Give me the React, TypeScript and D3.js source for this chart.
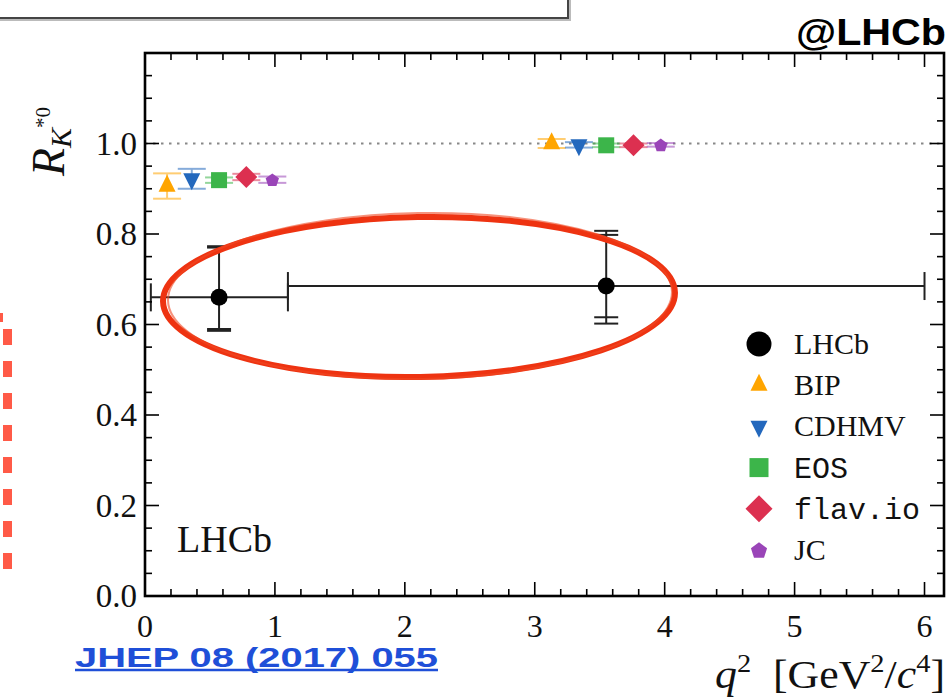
import React from "react";
import * as d3 from "d3";

const xMajorTicks = [0, 1, 2, 3, 4, 5, 6];
const xTickLabels = ["0", "1", "2", "3", "4", "5", "6"];
const yMajorTicks = [0, 0.2, 0.4, 0.6, 0.8, 1.0, 1.2];
const yTickLabels = ["0.0", "0.2", "0.4", "0.6", "0.8", "1.0"];

// LHCb measurement
const lhcbQ2 = [0.57, 3.55];
const lhcbQ2Low = [0.045, 1.1];
const lhcbQ2High = [1.1, 6.0];
const lhcbR = [0.66, 0.685];
const lhcbStatUp = [0.11, 0.113];
const lhcbStatDn = [0.07, 0.069];
const lhcbTotUp = [0.113, 0.122];
const lhcbTotDn = [0.074, 0.083];

// Theory predictions
const theoryNames = ["BIP", "CDHMV", "EOS", "flav.io", "JC"];
const theoryShapes = ["tri", "itri", "square", "diamond", "pent"];
const theoryColors = ["#ffa500", "#2368bd", "#3cb54a", "#dc3050", "#9a45b8"];
const theoryLowQ2 = [0.17, 0.36, 0.57, 0.78, 0.98];
const theoryLowR = [0.906, 0.922, 0.919, 0.926, 0.92];
const theoryLowErr = [0.028, 0.022, 0.006, 0.007, 0.007];
const theoryHighQ2 = [3.13, 3.34, 3.55, 3.76, 3.97];
const theoryHighR = [1.0, 0.997, 0.996, 0.996, 0.997];
const theoryHighErr = [0.01, 0.006, 0.004, 0.004, 0.004];

const legendNames = ["LHCb", ...theoryNames];

const W = 952;
const H = 699;
const L = 145, R = 944, T = 53, B = 596;

const x = d3.scaleLinear().domain([0, 6.15]).range([L, R]);
const y = d3.scaleLinear().domain([0, 1.2]).range([B, T]);

const serif = "'Liberation Serif', 'DejaVu Serif', serif";
const mono = "'Liberation Mono', 'DejaVu Sans Mono', monospace";
const sans = "'Liberation Sans', Arial, sans-serif";

function marker(shape: string, cx: number, cy: number, s: number, color: string, key?: string) {
  if (shape === "circle") return <circle key={key} cx={cx} cy={cy} r={s / 2} fill={color} />;
  if (shape === "tri") {
    const h = s, w = s / 2;
    const p = `M${cx},${cy - (2 * h) / 3}L${cx + w},${cy + h / 3}L${cx - w},${cy + h / 3}Z`;
    return <path key={key} d={p} fill={color} />;
  }
  if (shape === "itri") {
    const h = s, w = s / 2;
    const p = `M${cx},${cy + (2 * h) / 3}L${cx + w},${cy - h / 3}L${cx - w},${cy - h / 3}Z`;
    return <path key={key} d={p} fill={color} />;
  }
  if (shape === "square") {
    return <rect key={key} x={cx - s / 2} y={cy - s / 2} width={s} height={s} fill={color} />;
  }
  if (shape === "diamond") {
    const r = s / 2;
    return <path key={key} d={`M${cx},${cy - r}L${cx + r},${cy}L${cx},${cy + r}L${cx - r},${cy}Z`} fill={color} />;
  }
  // pentagon
  const r = s / 2;
  const pts = d3.range(5).map((i) => {
    const a = -Math.PI / 2 + (i * 2 * Math.PI) / 5;
    return [cx + r * Math.cos(a), cy + r * Math.sin(a) + r * 0.1];
  });
  return <path key={key} d={"M" + pts.map((p) => p.join(",")).join("L") + "Z"} fill={color} />;
}

const plotSizes: Record<string, number> = { tri: 17, itri: 17, square: 16, diamond: 22, pent: 14, circle: 17 };
const legendSizes: Record<string, number> = { tri: 17, itri: 17, square: 19, diamond: 27, pent: 17, circle: 25 };

export default function App() {
  const xMinor = d3.range(0, 6.01, 0.2).filter((v) => Math.abs(v - Math.round(v)) > 1e-6);
  const yMinor = d3.range(0, 1.201, 0.05).filter((v) => Math.abs(v / 0.2 - Math.round(v / 0.2)) > 1e-6);
  const maj = 14, mnr = 7;

  const theoryBars = (qs: number[], rs: number[], es: number[], tag: string) =>
    qs.map((q, i) => {
      const cx = x(q);
      const c = theoryColors[i];
      const hw = 14;
      return (
        <g key={tag + i}>
          <g stroke={c} strokeWidth={2} opacity={0.55}>
            <line x1={cx} x2={cx} y1={y(rs[i] + es[i])} y2={y(rs[i] - es[i])} />
            <line x1={cx - hw} x2={cx + hw} y1={y(rs[i] + es[i])} y2={y(rs[i] + es[i])} />
            <line x1={cx - hw} x2={cx + hw} y1={y(rs[i] - es[i])} y2={y(rs[i] - es[i])} />
          </g>
          {marker(theoryShapes[i], cx, y(rs[i]), plotSizes[theoryShapes[i]], c)}
        </g>
      );
    });

  const legendY0 = 344;
  const legendDy = 41.2;

  return (
    <svg width={W} height={H} style={{ position: "absolute", left: 0, top: 0, background: "#fff" }}>
      {/* top-left box */}
      <path d="M0,20 H570 V-2" fill="none" stroke="#bbb" strokeWidth={2} />
      <path d="M0,18 H568 V-2" fill="none" stroke="#444" strokeWidth={2} />

      {/* @LHCb */}
      <text x={946} y={45} textAnchor="end" fontFamily={sans} fontWeight="bold" fontSize={37} fill="#000" textLength={150} lengthAdjust="spacingAndGlyphs">
        @LHCb
      </text>

      {/* red dashed line */}
      <line x1={7.5} x2={7.5} y1={329} y2={569} stroke="#ff5a47" strokeWidth={9} strokeDasharray="16,16" />
      <line x1={1.5} x2={1.5} y1={313} y2={322} stroke="#ff5a47" strokeWidth={3} />

      {/* dotted SM line */}
      <line x1={L} x2={R} y1={y(1.0)} y2={y(1.0)} stroke="#888" strokeWidth={2} strokeDasharray="2.5,5.5" />

      {/* theory */}
      {theoryBars(theoryLowQ2, theoryLowR, theoryLowErr, "lo")}
      {theoryBars(theoryHighQ2, theoryHighR, theoryHighErr, "hi")}

      {/* LHCb data */}
      {lhcbQ2.map((q, i) => {
        const cx = x(q);
        const cy = y(lhcbR[i]);
        const capH = 14;
        const capW = 12;
        return (
          <g key={"d" + i} stroke="#222" strokeWidth={2}>
            <line x1={x(lhcbQ2Low[i])} x2={x(lhcbQ2High[i])} y1={cy} y2={cy} />
            <line x1={x(lhcbQ2Low[i])} x2={x(lhcbQ2Low[i])} y1={cy - capH} y2={cy + capH} />
            <line x1={x(lhcbQ2High[i])} x2={x(lhcbQ2High[i])} y1={cy - capH} y2={cy + capH} />
            <line x1={cx} x2={cx} y1={y(lhcbR[i] + lhcbTotUp[i])} y2={y(lhcbR[i] - lhcbTotDn[i])} />
            {[lhcbStatUp[i], lhcbTotUp[i]].map((e, k) => (
              <line key={"u" + k} x1={cx - capW} x2={cx + capW} y1={y(lhcbR[i] + e)} y2={y(lhcbR[i] + e)} />
            ))}
            {[lhcbStatDn[i], lhcbTotDn[i]].map((e, k) => (
              <line key={"dn" + k} x1={cx - capW} x2={cx + capW} y1={y(lhcbR[i] - e)} y2={y(lhcbR[i] - e)} />
            ))}
            <circle cx={cx} cy={cy} r={8.5} fill="#000" stroke="none" />
          </g>
        );
      })}

      {/* frame & ticks */}
      <g stroke="#000" strokeWidth={1.6}>
        {xMajorTicks.map((v) => (
          <g key={"xm" + v}>
            <line x1={x(v)} x2={x(v)} y1={B} y2={B - maj} />
            <line x1={x(v)} x2={x(v)} y1={T} y2={T + maj} />
          </g>
        ))}
        {xMinor.map((v, i) => (
          <g key={"xn" + i}>
            <line x1={x(v)} x2={x(v)} y1={B} y2={B - mnr} />
            <line x1={x(v)} x2={x(v)} y1={T} y2={T + mnr} />
          </g>
        ))}
        {yMajorTicks.map((v) => (
          <g key={"ym" + v}>
            <line x1={L} x2={L + maj} y1={y(v)} y2={y(v)} />
            <line x1={R} x2={R - maj} y1={y(v)} y2={y(v)} />
          </g>
        ))}
        {yMinor.map((v, i) => (
          <g key={"yn" + i}>
            <line x1={L} x2={L + mnr} y1={y(v)} y2={y(v)} />
            <line x1={R} x2={R - mnr} y1={y(v)} y2={y(v)} />
          </g>
        ))}
      </g>
      <rect x={L} y={T} width={R - L} height={B - T} fill="none" stroke="#000" strokeWidth={2.6} />

      {/* tick labels */}
      {xMajorTicks.map((v, i) => (
        <text key={"xl" + v} x={x(v)} y={637} textAnchor="middle" fontFamily={serif} fontSize={32} fill="#111">
          {xTickLabels[i]}
        </text>
      ))}
      {yTickLabels.map((lab, i) => (
        <text key={"yl" + i} x={137} y={y(yMajorTicks[i]) + 11} textAnchor="end" fontFamily={serif} fontSize={33} fill="#111">
          {lab}
        </text>
      ))}

      {/* axis titles */}
      <text transform="translate(64,176) rotate(-90)" fontFamily={serif} fill="#111">
        <tspan fontSize={46} fontStyle="italic">R</tspan>
        <tspan fontSize={30} fontStyle="italic" dy={7}>K</tspan>
        <tspan fontSize={21} dy={-21}>*0</tspan>
      </text>
      <text x={715} y={688} fontFamily={serif} fill="#111" fontSize={40} textLength={230} lengthAdjust="spacingAndGlyphs">
        <tspan fontStyle="italic">q</tspan>
        <tspan fontSize={26} dy={-16}>2</tspan>
        <tspan dy={16}>{"\u2002[GeV"}</tspan>
        <tspan fontSize={26} dy={-16}>2</tspan>
        <tspan dy={16}>/</tspan>
        <tspan fontStyle="italic">c</tspan>
        <tspan fontSize={26} dy={-16}>4</tspan>
        <tspan dy={16}>]</tspan>
      </text>

      {/* LHCb label in plot */}
      <text x={177} y={552} fontFamily={serif} fontSize={38} fill="#111">LHCb</text>

      {/* legend */}
      {legendNames.map((name, i) => {
        const cy = legendY0 + i * legendDy;
        const shape = i === 0 ? "circle" : theoryShapes[i - 1];
        const color = i === 0 ? "#000" : theoryColors[i - 1];
        const isMono = name === "EOS" || name === "flav.io";
        return (
          <g key={"lg" + i}>
            {marker(shape, 759, cy, legendSizes[shape], color)}
            <text x={794} y={cy + 10} fontFamily={isMono ? mono : serif} fontSize={30} fill="#111">
              {name}
            </text>
          </g>
        );
      })}

      {/* red ellipse annotation */}
      <g transform="translate(419,297) rotate(-1)" fill="none">
        <ellipse cx={0} cy={0} rx={256} ry={80} stroke="#ee3311" strokeWidth={6} />
        <ellipse cx={1} cy={-1} rx={252} ry={83} stroke="#f04a25" strokeWidth={2} opacity={0.6} />
      </g>

      {/* reference */}
      <text x={75} y={667} fontFamily={sans} fontWeight="bold" fontSize={27} fill="#1f4fd8" textLength={363} lengthAdjust="spacingAndGlyphs">
        JHEP 08 (2017) 055
      </text>
      <line x1={75} x2={438} y1={670} y2={670} stroke="#1f4fd8" strokeWidth={2.5} />
    </svg>
  );
}
